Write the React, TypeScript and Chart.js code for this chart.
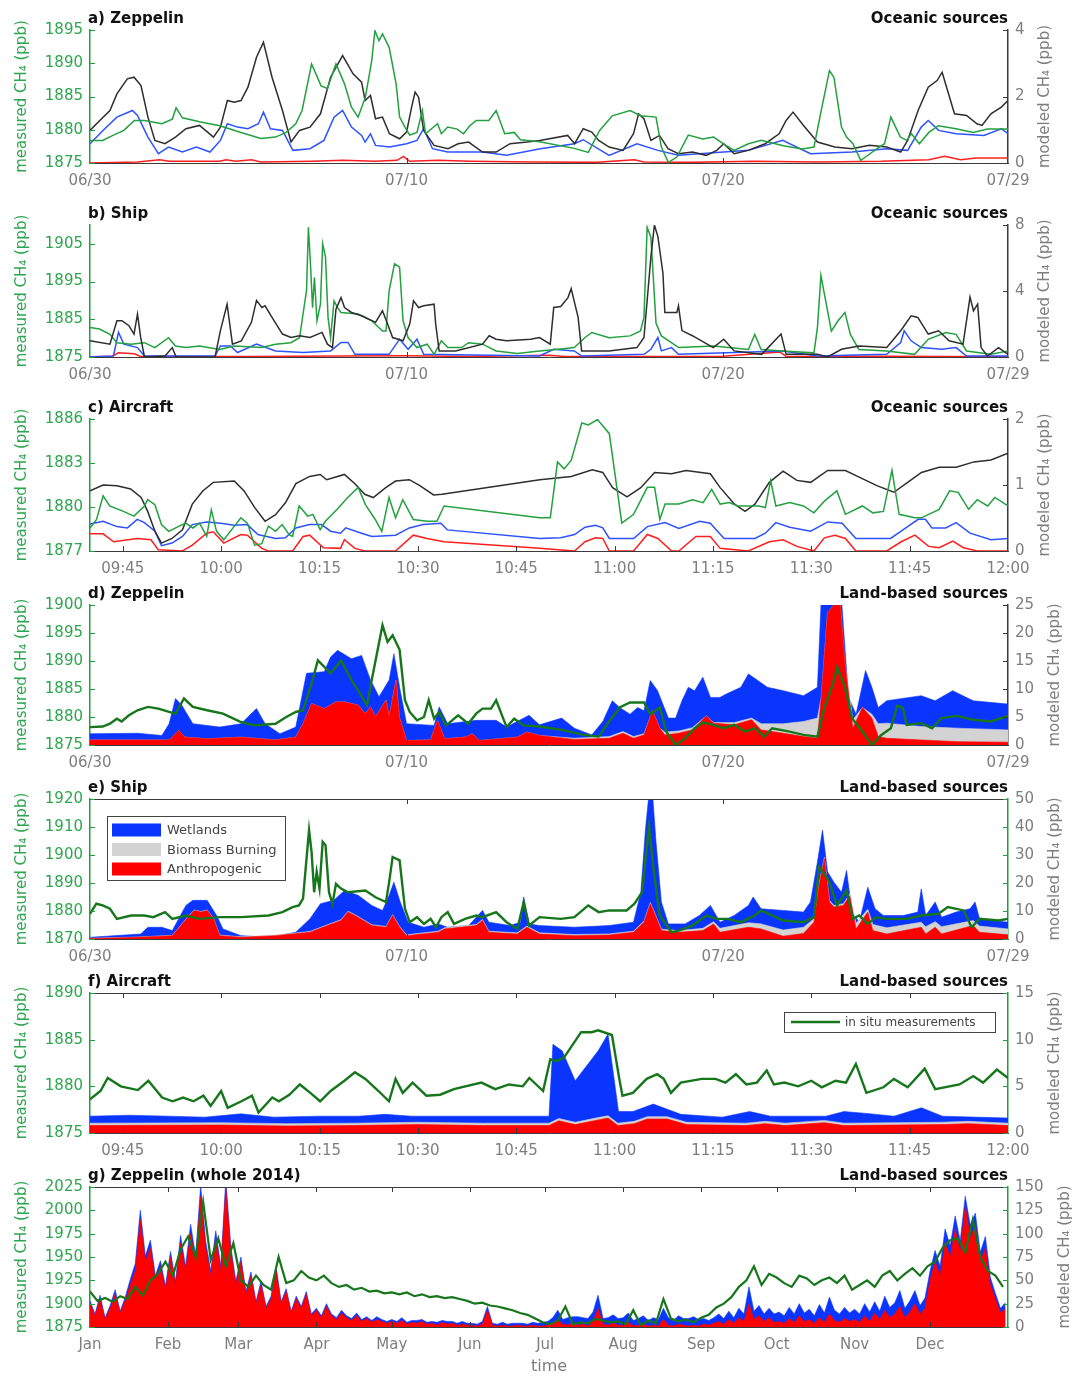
import React, { useEffect, useRef } from "react";
import { Chart, registerables } from "chart.js";

Chart.register(...registerables);

type Pair = [number, number];

// ---------- tick definitions ----------
const dateTickDays = [0, 10, 20, 29];
const dateTickLabels = ["06/30", "07/10", "07/20", "07/29"];
const flightTickMinutes = [585, 600, 615, 630, 645, 660, 675, 690, 705, 720];
const flightTickLabels = ["09:45", "10:00", "10:15", "10:30", "10:45", "11:00", "11:15", "11:30", "11:45", "12:00"];
const monthTickDays = [0, 31, 59, 90, 120, 151, 181, 212, 243, 273, 304, 334];
const monthTickLabels = ["Jan", "Feb", "Mar", "Apr", "May", "Jun", "Jul", "Aug", "Sep", "Oct", "Nov", "Dec"];

const aLeftTicks = [1875, 1880, 1885, 1890, 1895];
const aRightTicks = [0, 2, 4];
const bLeftTicks = [1875, 1885, 1895, 1905];
const bRightTicks = [0, 4, 8];
const cLeftTicks = [1877, 1880, 1883, 1886];
const cRightTicks = [0, 1, 2];
const dLeftTicks = [1875, 1880, 1885, 1890, 1895, 1900];
const dRightTicks = [0, 5, 10, 15, 20, 25];
const eLeftTicks = [1870, 1880, 1890, 1900, 1910, 1920];
const eRightTicks = [0, 10, 20, 30, 40, 50];
const fLeftTicks = [1875, 1880, 1885, 1890];
const fRightTicks = [0, 5, 10, 15];
const gLeftTicks = [1875, 1900, 1925, 1950, 1975, 2000, 2025];
const gRightTicks = [0, 25, 50, 75, 100, 125, 150];

const sourceLabels = ["Wetlands", "Biomass Burning", "Anthropogenic"];
const measurementLabel = "in situ measurements";

// ---------- a) Zeppelin, oceanic (days since 06/30) ----------
const aGreen: Pair[] = [[0,1878.4],[0.4,1878.4],[0.74,1879.2],[1.07,1879.9],[1.4,1881.4],[1.72,1881.4],[2.27,1880.9],[2.6,1881.6],[2.72,1883.3],[2.92,1881.8],[3.46,1881.2],[4.1,1880.6],[4.77,1879.6],[5.4,1878.7],[5.86,1878.9],[6.2,1879.6],[6.5,1880.9],[6.7,1882.9],[7.0,1889.9],[7.3,1886.6],[7.5,1886.2],[7.77,1889.9],[8.04,1886.9],[8.26,1883.4],[8.47,1881.9],[8.7,1884.9],[8.9,1890.4],[9.0,1894.9],[9.13,1893.4],[9.24,1894.4],[9.45,1892.4],[9.67,1886.9],[9.78,1881.9],[9.95,1880.4],[10.1,1879.2],[10.33,1879.6],[10.5,1882.9],[10.6,1879.4],[10.98,1880.9],[11.1,1879.4],[11.3,1880.4],[11.6,1880.1],[11.8,1879.4],[12.0,1880.6],[12.2,1881.4],[12.6,1881.4],[12.83,1882.9],[13.1,1879.4],[13.4,1879.6],[13.6,1878.5],[14.2,1878.2],[15.3,1877.2],[15.74,1876.6],[16.1,1879.9],[16.5,1882.1],[17.06,1882.9],[17.4,1882.1],[17.88,1881.9],[18.05,1877.4],[18.27,1875.1],[18.54,1875.9],[18.9,1879.2],[19.36,1878.6],[19.7,1878.9],[20.0,1877.9],[20.35,1876.9],[20.8,1877.9],[21.2,1878.4],[21.9,1877.6],[22.5,1877.1],[22.87,1877.4],[23.1,1882.9],[23.36,1888.9],[23.5,1887.9],[23.74,1880.4],[23.9,1878.9],[24.1,1877.9],[24.35,1875.4],[24.5,1875.9],[24.84,1877.1],[25.1,1877.9],[25.3,1881.9],[25.45,1880.4],[25.6,1878.9],[25.8,1878.4],[25.95,1879.4],[26.2,1877.9],[26.5,1879.6],[26.8,1880.6],[27.4,1880.1],[27.9,1879.6],[28.35,1880.1],[29,1880.1]];
const aBlack: Pair[] = [[0,0.98],[0.31,1.28],[0.63,1.58],[0.85,2.08],[1.18,2.53],[1.39,2.58],[1.61,2.33],[1.83,1.38],[2.05,0.68],[2.37,0.58],[2.7,0.78],[3.03,1.03],[3.46,1.13],[3.9,0.78],[4.12,1.08],[4.34,1.88],[4.55,1.83],[4.77,1.88],[4.99,2.28],[5.26,3.18],[5.48,3.63],[5.75,2.58],[6.08,1.58],[6.35,0.63],[6.62,0.98],[6.95,1.08],[7.28,1.48],[7.6,2.58],[7.98,3.23],[8.31,2.68],[8.58,2.43],[8.69,1.88],[8.86,2.03],[9.02,1.33],[9.24,1.38],[9.46,0.88],[9.78,0.73],[10.0,0.93],[10.16,1.68],[10.27,2.13],[10.38,1.98],[10.54,0.98],[10.87,0.53],[11.31,0.43],[11.63,0.58],[11.96,0.63],[12.4,0.33],[12.83,0.33],[13.27,0.58],[13.81,0.63],[14.21,0.68],[15.09,0.83],[15.31,0.58],[15.58,1.03],[15.85,0.93],[16.07,0.68],[16.4,0.48],[16.84,0.38],[17.17,0.88],[17.33,1.48],[17.5,1.33],[17.72,0.68],[17.99,0.83],[18.26,0.43],[18.59,0.28],[19.03,0.33],[19.47,0.23],[19.8,0.38],[20.02,0.58],[20.35,0.28],[20.79,0.38],[21.33,0.58],[21.77,0.88],[21.99,1.28],[22.21,1.53],[22.54,1.13],[22.98,0.63],[23.53,0.48],[24.07,0.43],[24.62,0.53],[25.17,0.48],[25.61,0.33],[25.83,0.68],[26.16,1.58],[26.48,2.28],[26.76,2.48],[26.92,2.73],[27.09,2.18],[27.31,1.48],[27.69,1.43],[28.02,1.18],[28.18,1.13],[28.46,1.48],[28.79,1.68],[29,1.88]];
const aBlue: Pair[] = [[0,0.58],[0.41,0.98],[0.85,1.38],[1.34,1.58],[1.5,1.43],[1.83,0.78],[2.16,0.28],[2.48,0.48],[2.92,0.33],[3.36,0.48],[3.79,0.33],[4.12,0.68],[4.34,1.18],[4.66,1.08],[4.99,1.03],[5.32,1.18],[5.48,1.53],[5.7,1.03],[6.08,0.98],[6.41,0.38],[6.95,0.43],[7.39,0.68],[7.71,1.38],[7.98,1.58],[8.26,1.08],[8.58,0.83],[8.69,0.63],[8.86,0.88],[9.02,0.53],[9.46,0.48],[10.0,0.58],[10.33,0.68],[10.54,1.03],[10.82,0.43],[11.3,0.33],[12.4,0.33],[13.16,0.23],[14.23,0.43],[15.3,0.58],[15.58,0.7],[16.4,0.23],[17.28,0.58],[17.94,0.38],[18.59,0.23],[20.02,0.33],[20.8,0.38],[21.88,0.68],[22.76,0.28],[24.07,0.33],[25.17,0.43],[25.83,0.38],[26.26,1.08],[26.48,1.28],[26.81,0.98],[27.36,0.88],[28.24,0.83],[28.79,1.03],[29,0.88]];
const aRed: Pair[] = [[0,0],[1.5,0.03],[2.2,0.1],[2.5,0.05],[4.1,0.05],[4.3,0.1],[4.6,0.05],[5.1,0.1],[5.4,0.03],[7.0,0.05],[8.0,0.08],[9.0,0.05],[9.7,0.08],[9.9,0.2],[10.1,0.05],[11,0.08],[12,0.05],[14,0.03],[16,0.02],[17.2,0.1],[17.5,0.03],[19,0.02],[21,0.05],[23,0.03],[25,0.05],[26.5,0.1],[27,0.2],[27.5,0.1],[28,0.15],[29,0.15]];

// ---------- b) Ship, oceanic ----------
const bGreen: Pair[] = [[0,1882.8],[0.3,1882.4],[0.63,1881.0],[0.85,1878.8],[1.29,1878.4],[1.72,1878.8],[2.05,1877.5],[2.48,1880.1],[2.7,1877.9],[3.03,1877.5],[3.46,1877.9],[4.1,1877.0],[4.55,1877.9],[5.43,1877.5],[5.86,1878.4],[6.34,1878.8],[6.62,1880.1],[6.73,1886.4],[6.84,1892.6],[6.9,1909.4],[6.97,1898.8],[7.03,1888.1],[7.09,1896.1],[7.17,1884.6],[7.28,1889],[7.35,1905.0],[7.44,1901.5],[7.52,1885.5],[7.6,1880.1],[7.71,1889.9],[7.82,1888.1],[7.93,1886.8],[8.47,1886.4],[8.9,1884.6],[9.24,1881.9],[9.35,1881.9],[9.45,1892.6],[9.62,1899.7],[9.78,1898.8],[9.89,1884.6],[10.05,1880.1],[10.33,1877.5],[10.65,1878.4],[10.87,1875.7],[11.1,1879.3],[11.3,1877.5],[11.74,1877.5],[11.96,1878.8],[12.4,1878.4],[12.83,1876.6],[13.5,1875.9],[14.2,1876.6],[14.87,1877.1],[15.3,1877.5],[15.63,1880.1],[15.85,1881.5],[16.4,1880.1],[17.06,1880.6],[17.39,1881.9],[17.5,1885.5],[17.6,1909.4],[17.72,1906.7],[17.88,1884],[18.05,1880.6],[18.6,1877.5],[19.7,1877.9],[20.8,1877.0],[21.0,1881],[21.2,1877.0],[21.88,1876.6],[22.87,1876.1],[22.98,1882.8],[23.09,1896.6],[23.2,1891.7],[23.42,1881.9],[23.63,1884.6],[23.85,1886.8],[24.02,1881],[24.29,1877.0],[25.17,1876.6],[26.05,1875.7],[26.48,1879.7],[27.03,1881.5],[27.36,1881],[27.69,1876.6],[28.46,1875.7],[29,1876.6]];
const bBlack: Pair[] = [[0,0.98],[0.63,0.78],[0.85,2.2],[1.01,2.2],[1.23,1.9],[1.39,1.39],[1.5,2.6],[1.6,1.2],[1.72,0],[2.37,0.06],[2.6,0.57],[2.72,0],[3.95,0],[4.12,1.6],[4.33,3.2],[4.5,0.78],[4.78,0.98],[5.1,2.1],[5.26,3.43],[5.43,3.0],[5.53,3.1],[5.75,2.4],[6.08,1.39],[6.35,1.18],[6.62,1.29],[6.95,1.18],[7.33,1.49],[7.5,0.78],[7.66,0.57],[7.77,2.9],[7.93,3.6],[8.04,3.0],[8.26,2.7],[8.58,2.5],[9.02,2.1],[9.24,2.8],[9.4,2.0],[9.56,1.18],[9.89,0.98],[10.1,2.0],[10.22,3.4],[10.38,3.0],[10.54,3.1],[10.87,3.2],[10.92,2.0],[11.03,0.37],[11.55,0.37],[12.4,0.78],[12.61,1.29],[12.83,1.08],[13.16,0.98],[13.92,1.08],[14.2,1.18],[14.54,0.78],[14.65,3.0],[14.87,3.06],[15.1,3.6],[15.2,4.14],[15.42,2.4],[15.53,0.37],[16.4,0.37],[17.28,0.57],[17.5,1.18],[17.72,6.08],[17.83,8.0],[17.94,7.3],[18.1,5.06],[18.16,2.7],[18.54,2.7],[18.59,3.1],[18.7,1.6],[19.03,1.29],[19.69,0.57],[20.02,1.08],[20.35,0.37],[21.22,0.16],[21.83,1.39],[21.99,0.16],[22.98,0.16],[23.3,0],[23.74,0.47],[24.29,0.67],[25.17,0.57],[25.61,1.59],[25.94,2.5],[26.15,2.4],[26.48,1.39],[26.81,1.59],[27.14,0.98],[27.58,0.78],[27.8,3.63],[27.91,2.8],[28.04,3.2],[28.15,0.57],[28.35,0.06],[28.7,0.57],[29,0.16]];
const bBlue: Pair[] = [[0,0],[0.74,0.06],[0.9,1.49],[1.07,0.78],[1.5,0.57],[1.72,0.06],[3.95,0.06],[4.12,0.67],[4.44,0.67],[4.66,0.27],[5.26,0.78],[5.86,0.37],[6.73,0.27],[7.6,0.37],[7.93,0.88],[8.15,0.88],[8.37,0.16],[9.45,0.16],[9.78,1.08],[10.05,0.47],[10.33,1.08],[10.54,0.16],[14.2,0.06],[14.65,0.47],[15.3,0.37],[15.53,0.06],[17.5,0.16],[17.72,0.47],[17.94,1.18],[18.05,0.37],[18.37,0.57],[18.59,0.16],[21.88,0.37],[22.98,0.06],[25.17,0.16],[25.61,0.88],[25.72,1.59],[25.94,0.98],[26.26,0.57],[26.9,0.47],[27.36,0.57],[27.69,0.06],[29,0.06]];
const bRed: Pair[] = [[0,0.02],[0.7,0.05],[0.9,0.25],[1.4,0.2],[1.6,0.03],[5,0.03],[8,0.06],[10,0.08],[12,0.03],[14.5,0.1],[15,0.03],[20,0.05],[21.8,0.3],[22,0.03],[25,0.05],[29,0.02]];

// ---------- c) Aircraft, oceanic (minutes since midnight) ----------
const cGreen: Pair[] = [[580,1878.57],[581,1879.15],[582,1880.76],[583,1880.07],[585.1,1879.7],[586.7,1879.38],[588.3,1880.07],[588.8,1880.5],[589.9,1880.16],[590.9,1878.8],[592,1878.34],[593.6,1878.7],[594.6,1878.9],[595.7,1878.57],[596.7,1878.9],[597.8,1878.0],[598.5,1879.8],[599.3,1878.34],[600.4,1877.76],[603,1879.26],[604,1878.9],[605.1,1877.4],[606.2,1877.5],[607.2,1878.7],[608.3,1878.34],[609.3,1878.8],[610.4,1878.1],[610.9,1878.0],[611.9,1880.07],[613.2,1879.38],[614,1879.5],[615.1,1878.46],[615.9,1879.03],[617.7,1879.84],[619.3,1880.65],[620.9,1881.34],[622,1880.16],[623.5,1879.15],[624.5,1878.34],[625.6,1880.65],[626.6,1879.26],[627.7,1880.5],[629.3,1879.15],[631.4,1879.03],[632.9,1879.03],[634,1880.07],[648.6,1879.26],[650.2,1879.26],[651.3,1883.07],[652.3,1882.6],[653.4,1883.19],[655,1885.73],[656,1885.6],[657.4,1885.96],[659.2,1885.0],[661.1,1878.9],[662.9,1879.5],[665,1881.34],[666.1,1881.34],[666.9,1879.15],[667.7,1880.2],[669.8,1880.2],[671.9,1880.5],[673.5,1880.3],[674.8,1881.2],[676.1,1880.2],[677.5,1880.3],[678.8,1880.07],[680.4,1880.07],[682,1880.07],[683,1879.96],[683.8,1881.8],[684.6,1880.07],[686.7,1880.3],[688.8,1880.07],[690.4,1879.6],[692,1880.4],[693.9,1881.1],[695.2,1879.5],[697.8,1880.07],[699.4,1879.6],[701,1879.7],[702.3,1882.5],[703.4,1879.5],[705.8,1879.26],[706.8,1879.26],[709.5,1879.84],[711.1,1881.1],[712.4,1881.0],[714,1879.84],[715.3,1880.5],[716.9,1880.07],[718,1880.65],[720,1880.07]];
const cBlack: Pair[] = [[580,0.91],[582,1.0],[584.1,0.99],[586.2,0.94],[587.8,0.81],[588.8,0.6],[589.9,0.3],[590.9,0.12],[592.5,0.19],[594.1,0.32],[595.6,0.71],[597.2,0.91],[598.8,1.04],[602,1.06],[603.5,0.91],[605.1,0.66],[606.7,0.45],[608.3,0.55],[609.8,0.73],[611.4,1.02],[613.5,1.13],[615.1,1.16],[616.1,1.08],[618.8,1.16],[620.4,1.02],[621.9,0.86],[623.2,0.81],[625.1,0.96],[626.6,1.06],[628.7,1.08],[630.3,0.99],[632.4,0.85],[633.7,0.86],[648.6,1.08],[653.4,1.13],[656.6,1.23],[658.2,1.19],[659.7,0.96],[661.9,0.82],[664,0.96],[666.1,1.19],[668.7,1.17],[670.9,1.22],[674.6,1.17],[676.1,0.96],[678.3,0.71],[679.9,0.6],[681.4,0.71],[683.6,1.04],[685.7,1.21],[687.8,1.07],[689.9,1.04],[692.5,1.22],[695.2,1.22],[697.3,1.12],[700,0.99],[702.6,0.89],[704.7,1.04],[706.8,1.19],[709.5,1.27],[712.1,1.27],[714.8,1.35],[717.4,1.38],[720,1.48]];
const cBlue: Pair[] = [[580,0.41],[582,0.45],[584.1,0.37],[585.7,0.35],[587.2,0.48],[588.3,0.43],[589.9,0.3],[590.9,0.08],[592.5,0.12],[594.1,0.22],[595.6,0.4],[597.8,0.44],[599.9,0.42],[602,0.39],[604,0.4],[605.6,0.25],[608.3,0.19],[609.8,0.2],[611.4,0.35],[613.5,0.4],[615.3,0.4],[616.7,0.3],[618.2,0.27],[619,0.35],[621.4,0.27],[623,0.22],[626.6,0.24],[628.7,0.35],[630.8,0.4],[633.5,0.42],[634.5,0.32],[648.6,0.19],[651.8,0.2],[653.9,0.25],[655.5,0.36],[657.1,0.39],[658.2,0.35],[659.2,0.19],[662.9,0.19],[665,0.37],[667.7,0.43],[669.8,0.34],[673,0.45],[674.6,0.42],[676.7,0.19],[681.4,0.19],[683,0.27],[684.6,0.43],[686.7,0.36],[689.9,0.3],[692.5,0.44],[694.7,0.42],[696.8,0.19],[702.1,0.19],[703.7,0.3],[706.3,0.48],[707.4,0.48],[708.4,0.35],[710.5,0.35],[712.1,0.43],[714.2,0.27],[717.4,0.17],[720,0.19]];
const cRed: Pair[] = [[580,0.26],[582,0.26],[583.6,0.14],[587.2,0.19],[589.3,0.17],[590.4,0.02],[594.1,0],[595.6,0.09],[597.8,0.27],[598.8,0.29],[600.4,0.12],[603,0.25],[604,0.24],[606.2,0.04],[607.2,0],[610.9,0],[612.5,0.22],[613.5,0.24],[615.6,0.05],[618.2,0.04],[618.8,0.17],[620.4,0.04],[621.9,0],[626.6,0],[629.3,0.24],[631.4,0.19],[634,0.14],[648.6,0.04],[653.9,0],[655.5,0.14],[657.1,0.2],[658.2,0.19],[659.2,0],[662.9,0],[665,0.25],[666.6,0.19],[668.7,0],[669.8,0],[672.4,0.22],[674.6,0.22],[676.1,0.04],[680.4,0],[683.6,0.14],[685.7,0.17],[687.8,0.07],[690.4,0],[692,0.2],[693.6,0.24],[695.2,0.19],[696.8,0],[701.5,0],[703.7,0.14],[705.8,0.24],[707.9,0.07],[709.5,0.05],[711.6,0.15],[713.2,0.05],[715.3,0],[720,0]];

// ---------- d) Zeppelin, land-based ----------
const dGreen: Pair[] = [[0,1878.2],[0.4,1878.3],[0.63,1878.8],[0.85,1879.7],[1.0,1879.2],[1.23,1880.3],[1.5,1881.2],[1.83,1881.8],[2.16,1881.5],[2.5,1880.9],[2.7,1880.6],[2.97,1883.3],[3.25,1881.8],[3.7,1881.2],[4.2,1880.6],[4.77,1879.1],[5.2,1878.5],[5.86,1878.8],[6.2,1880],[6.5,1880.9],[6.73,1881.2],[7.0,1886.0],[7.2,1890.1],[7.6,1887.8],[7.93,1890.1],[8.26,1886.6],[8.53,1884.2],[8.75,1882.1],[8.9,1886.6],[9.24,1896.4],[9.4,1893.4],[9.56,1894.6],[9.78,1892],[9.95,1883],[10.1,1880.9],[10.33,1879.4],[10.55,1880],[10.7,1883],[10.87,1879.7],[11.03,1880.9],[11.25,1878.5],[11.63,1880.3],[11.95,1878.8],[12.2,1880.6],[12.4,1881.5],[12.67,1881.5],[12.83,1883],[13.16,1878.2],[13.4,1879.7],[13.7,1878.5],[14.2,1878.3],[14.9,1877.7],[15.6,1876.8],[16.07,1876.5],[16.4,1879.2],[16.73,1881.7],[17.06,1882.6],[17.5,1882.6],[17.7,1880.5],[18.0,1881.7],[18.2,1877.4],[18.5,1875],[18.8,1876.2],[19.1,1878],[19.36,1879],[19.7,1878.6],[20.0,1878],[20.35,1878.6],[20.7,1877.4],[21.0,1878],[21.3,1876.5],[21.55,1878],[22.1,1877.4],[22.54,1876.8],[22.98,1876.5],[23.2,1881.7],[23.47,1885.9],[23.6,1888.9],[23.85,1885.3],[24.07,1879.8],[24.4,1877.4],[24.7,1875],[25.0,1876.8],[25.3,1878],[25.5,1882],[25.67,1881.7],[25.8,1878.6],[26.26,1878.9],[26.6,1878],[26.9,1879.8],[27.4,1880.2],[27.9,1879.5],[28.46,1879.2],[29,1880.2]];
const dTotalModeled: Pair[] = [[0,2.0],[1.5,2.1],[2.27,1.7],[2.5,3.8],[2.7,8.3],[2.9,7.1],[3.25,3.8],[4.1,3.2],[4.77,3.8],[5.26,6.5],[5.53,3.8],[6.0,2.0],[6.5,3.2],[6.84,12.8],[7.4,13.1],[7.6,15.7],[7.82,16.9],[8.26,15.4],[8.58,16.0],[8.86,11.6],[9.13,8.6],[9.45,11.6],[9.6,16.3],[9.78,10.3],[10.0,3.8],[10.87,3.5],[11.03,6.8],[11.3,3.8],[12.2,4.4],[12.83,4.4],[13.16,3.2],[13.87,5.3],[14.2,3.6],[14.9,4.8],[15.3,3.0],[15.85,1.8],[16.2,4.2],[16.5,7.9],[16.73,6.7],[17.06,5.5],[17.3,6.7],[17.5,6.1],[17.7,11.5],[17.93,9.7],[18.27,4.8],[18.5,4.8],[18.7,7.9],[18.9,10.3],[19.1,9.7],[19.36,12.1],[19.6,8.5],[19.9,8.5],[20.1,9.1],[20.56,10.3],[20.8,12.7],[21.1,11.5],[21.4,10.3],[21.9,9.7],[22.54,8.8],[22.98,10.3],[23.1,26],[23.74,26],[23.96,8.5],[24.2,5.5],[24.5,13.3],[24.7,10.3],[24.9,6.7],[25.17,7.9],[26.26,8.8],[26.7,7.9],[27.25,9.7],[27.9,7.9],[29,7.3]];
const dAnthroBiomass: Pair[] = [[0,0.9],[2.5,0.9],[2.8,2.6],[3.0,1.4],[3.7,1.1],[4.77,1.4],[5.86,0.9],[6.5,1.4],[6.73,3.8],[7.0,7.4],[7.4,6.5],[7.77,7.7],[8.04,7.7],[8.47,7.1],[8.7,5.6],[8.86,6.8],[9.02,5.0],[9.35,8.0],[9.45,5.0],[9.67,11.6],[9.77,5.0],[10.0,0.8],[10.76,0.9],[10.98,4.4],[11.2,1.1],[11.85,1.4],[12.07,2.0],[12.3,0.8],[13.5,1.4],[13.8,2.3],[14.2,1.7],[15.3,1.2],[16.4,1.5],[16.84,2.4],[17.17,1.5],[17.5,2.0],[17.77,6.1],[18.0,3.0],[18.16,2.3],[18.6,2.5],[19.03,3.1],[19.47,5.2],[19.7,4.0],[20.35,4.0],[20.9,4.8],[21.2,3.8],[21.9,3.8],[22.54,4.2],[22.98,4.8],[23.1,8.5],[23.3,23.6],[23.5,25],[23.7,25],[23.85,14.5],[24.1,4.5],[24.4,6.7],[24.7,5.5],[24.9,3.8],[25.17,3.9],[26.26,3.3],[27.4,3.0],[29,2.7]];
const dAnthropogenic: Pair[] = [[0,0.9],[2.5,0.9],[2.8,2.6],[3.0,1.4],[3.7,1.1],[4.77,1.4],[5.86,0.9],[6.5,1.4],[6.73,3.8],[7.0,7.4],[7.4,6.5],[7.77,7.7],[8.04,7.7],[8.47,7.1],[8.7,5.6],[8.86,6.8],[9.02,5.0],[9.35,8.0],[9.45,5.0],[9.67,11.6],[9.77,5.0],[10.0,0.8],[10.76,0.9],[10.98,4.4],[11.2,1.1],[11.85,1.4],[12.07,2.0],[12.3,0.8],[13.5,1.4],[13.8,2.3],[14.2,1.7],[15.3,1.0],[16.4,1.2],[16.84,2.1],[17.17,1.2],[17.5,1.8],[17.77,6.1],[18.0,3.0],[18.16,1.8],[18.6,2.1],[19.03,2.7],[19.47,5.2],[19.7,3.9],[20.35,3.6],[20.9,4.5],[21.2,2.7],[21.9,2.1],[22.54,1.5],[22.98,1.2],[23.1,8.5],[23.3,23.6],[23.5,25],[23.7,25],[23.85,14.5],[24.1,3.0],[24.4,6.7],[24.7,4.8],[24.9,1.5],[25.17,1.2],[26.26,0.9],[27.4,0.6],[29,0.5]];

// ---------- e) Ship, land-based ----------
const eGreen: Pair[] = [[0,1879],[0.2,1882.6],[0.4,1882],[0.63,1880.8],[0.85,1877.2],[1.3,1878.4],[1.72,1878.4],[2.0,1877.8],[2.37,1879.6],[2.6,1877.2],[3.03,1878.4],[3.46,1877.2],[4.1,1877.8],[4.77,1877.8],[5.64,1878.4],[6.08,1879.6],[6.4,1881.4],[6.6,1882],[6.73,1884.4],[6.84,1898.7],[6.92,1908.9],[7.0,1901],[7.08,1886.7],[7.16,1894],[7.25,1888],[7.35,1904.7],[7.44,1903.5],[7.55,1886.7],[7.66,1882.6],[7.77,1889.7],[7.93,1888],[8.15,1886.7],[8.7,1887.3],[9.02,1884.9],[9.35,1883.2],[9.45,1890.3],[9.56,1899.3],[9.78,1898.1],[9.95,1880.8],[10.1,1876],[10.33,1877.8],[10.55,1875.4],[10.76,1877.2],[10.93,1874.2],[11.1,1877.8],[11.3,1879.6],[11.5,1875.4],[11.85,1877.2],[12.2,1878.4],[12.4,1877.8],[12.83,1879.6],[13.16,1876],[13.5,1873.6],[13.7,1883.2],[13.87,1874.8],[14.2,1877.8],[14.87,1877.2],[15.3,1877.8],[15.74,1882],[16.07,1879.6],[16.4,1880.2],[16.95,1880.2],[17.2,1882.6],[17.44,1886.7],[17.55,1898.7],[17.66,1910.3],[17.8,1895],[18.0,1878.4],[18.37,1872.4],[18.6,1873],[19.03,1874.8],[19.47,1878.4],[19.8,1877.2],[20.13,1877.2],[20.56,1876],[21.0,1878.4],[21.2,1880.2],[21.9,1876.6],[22.54,1876],[22.87,1877.8],[23.03,1895.7],[23.2,1893.3],[23.36,1890.3],[23.6,1882],[23.9,1887.3],[24.1,1877.2],[24.3,1878.4],[24.57,1875.4],[24.84,1877.8],[25.17,1877.2],[25.8,1877.2],[26.26,1878.4],[26.8,1879],[27.1,1881.4],[27.6,1880.2],[27.85,1874.2],[28.1,1877.2],[28.7,1876.6],[29,1877.2]];
const eTotalModeled: Pair[] = [[0,0.6],[1.6,1.8],[1.83,4.2],[2.27,4.2],[2.6,3.0],[3.03,12],[3.25,13.8],[3.7,13.8],[4.0,8.4],[4.2,3.6],[4.77,1.2],[5.64,0.6],[6.5,2.4],[6.95,7.2],[7.28,12.6],[7.7,13.8],[8.04,17.3],[8.47,15.6],[8.9,12],[9.24,10.2],[9.45,15.6],[9.6,20.3],[9.8,13.2],[10.05,6.0],[10.55,4.2],[11.0,5.4],[11.3,4.2],[11.96,4.8],[12.4,10.2],[12.6,6.0],[13.27,4.8],[13.6,6.0],[13.7,15],[13.87,5.4],[14.2,4.8],[15.3,4.2],[16.4,4.8],[17.17,6.0],[17.4,16.7],[17.55,39.5],[17.66,52],[17.77,52],[17.88,34.7],[18.05,13.2],[18.27,5.4],[18.8,5.4],[19.25,8.4],[19.6,12],[19.9,6.0],[20.35,8.4],[20.8,12],[20.95,15],[21.2,10.8],[21.9,10.2],[22.54,9.6],[22.76,13.2],[22.98,27.5],[23.14,38.9],[23.3,24],[23.5,20.3],[23.74,16.7],[23.9,24.5],[24.07,9.6],[24.3,6.0],[24.57,18.5],[24.8,10.8],[25.06,8.4],[25.7,8.4],[26.15,9.6],[26.26,17.9],[26.4,8.4],[26.7,13.2],[26.9,7.8],[27.36,9.6],[27.8,10.8],[27.96,13.2],[28.1,7.2],[29,6.0]];
const eAnthroBiomass: Pair[] = [[0,0.3],[1.5,0.7],[2.6,1.3],[3.14,8.6],[3.3,10.4],[3.5,9.8],[3.7,10.4],[3.9,7.4],[4.1,1.4],[4.77,0.8],[5.86,1.4],[6.95,2.7],[7.5,5.1],[7.93,6.9],[8.15,9.9],[8.37,8.7],[8.9,5.1],[9.35,4.5],[9.56,8.7],[9.78,4.5],[10.0,1.5],[11.0,2.8],[11.2,4.0],[12.2,5.2],[12.4,7.0],[12.6,2.8],[13.5,2.2],[13.8,4.6],[14.2,2.2],[15.3,1.6],[16.4,1.8],[17.17,2.8],[17.5,6.4],[17.7,13.0],[17.9,7.6],[18.05,3.5],[18.6,3.0],[19.36,3.8],[19.7,6.2],[19.9,3.8],[20.8,5.8],[21.2,5.4],[21.9,3.2],[22.54,4.2],[22.87,7.2],[23.03,19.6],[23.2,29.2],[23.36,13.8],[23.5,12],[23.8,12.6],[24.0,16.1],[24.2,5.6],[24.57,10.6],[24.73,5.2],[25.17,4.0],[26.26,6.0],[26.4,4.4],[26.7,6.2],[26.9,4.4],[27.9,6.6],[28.1,4.6],[29,3.6]];
const eAnthropogenic: Pair[] = [[0,0.2],[1.5,0.6],[2.6,1.2],[3.14,8.4],[3.3,10.2],[3.5,9.6],[3.7,10.2],[3.9,7.2],[4.1,1.2],[4.77,0.6],[5.86,1.2],[6.95,2.4],[7.5,4.8],[7.93,6.6],[8.15,9.6],[8.37,8.4],[8.9,4.8],[9.35,4.2],[9.56,8.4],[9.78,4.2],[10.0,1.2],[11.0,2.4],[11.2,3.6],[12.2,4.8],[12.4,6.6],[12.6,2.4],[13.5,1.8],[13.8,4.2],[14.2,1.8],[15.3,1.2],[16.4,1.4],[17.17,2.4],[17.5,6.0],[17.7,12.6],[17.9,7.2],[18.05,3.0],[18.6,2.4],[19.36,3.0],[19.7,5.4],[19.9,2.4],[20.8,4.2],[21.2,3.6],[21.9,1.0],[22.54,2.0],[22.87,6.0],[23.03,19.1],[23.2,28.7],[23.36,13.2],[23.5,11.4],[23.8,12],[24.0,15.5],[24.2,3.6],[24.57,9.6],[24.73,3.0],[25.17,1.8],[26.26,4.2],[26.4,1.8],[26.7,4.2],[26.9,1.8],[27.9,4.8],[28.1,2.4],[29,1.5]];

// ---------- f) Aircraft, land-based ----------
const fGreen: Pair[] = [[580,1878.6],[581.6,1879.5],[582.7,1880.9],[584.7,1880],[587.3,1879.6],[588.9,1880.6],[591,1878.8],[592.6,1878.4],[594.2,1878.8],[595.8,1878.4],[597.3,1879],[598.4,1877.9],[600,1879.5],[601,1877.7],[603.1,1878.4],[604.7,1879],[605.7,1877.2],[607.8,1878.8],[608.8,1878.4],[610.4,1879.1],[612,1880.2],[613.6,1879.3],[615.1,1878.4],[616.7,1879.5],[618.8,1880.6],[620.4,1881.5],[622,1880.8],[624,1879.5],[625.6,1878.4],[626.6,1880.8],[627.7,1879.3],[629.2,1880.4],[631.3,1879],[633.4,1879.1],[635.5,1879.7],[639.7,1880.4],[641.8,1879.7],[643.9,1880.2],[646,1880],[647,1880.9],[649.1,1879.5],[650.2,1882.9],[651.2,1882.7],[652.3,1883.1],[654.9,1885.8],[656.5,1885.8],[657.5,1886],[659.6,1885.5],[660.7,1880.9],[661.2,1879],[662.8,1879.3],[664.9,1880.8],[666.5,1881.3],[667.5,1880.8],[668.6,1879.3],[670.1,1880.4],[673.3,1880.8],[675.4,1880.8],[676.9,1880.4],[678.5,1881.3],[680.1,1880.2],[681.7,1880.4],[683.2,1881.7],[684.3,1880.2],[685.9,1880.4],[688,1880],[690,1880.6],[691.6,1879.9],[693.7,1880.6],[695.3,1880.4],[696.8,1882.4],[698.4,1879.3],[701,1879.9],[702.6,1880.8],[704.7,1879.9],[707.3,1881.9],[708.9,1879.7],[712.6,1880.2],[714.7,1881.1],[716.2,1880.4],[718.3,1881.8],[720,1880.9]];
const fTotalModeled: Pair[] = [[580,1.8],[586,1.9],[592,1.8],[597.5,1.7],[603,2.05],[608,1.7],[615,1.8],[621,1.8],[625,2.0],[629,1.8],[640,1.8],[650,1.8],[650.6,9.5],[652,8.8],[654,5.6],[657.5,8.8],[659,10.6],[660.6,2.3],[662.8,2.3],[665.9,3.1],[670.1,2.0],[676.4,1.7],[680.6,2.3],[683.8,1.8],[692.2,1.8],[695,2.3],[698.4,2.1],[702.6,1.8],[706.8,2.7],[710,1.8],[720,1.6]];
const fAnthroBiomass: Pair[] = [[580,1.05],[600,1.1],[610,1.0],[620,1.05],[630,1.15],[640,1.05],[650,1.05],[651.5,1.55],[654,1.15],[657.5,1.65],[659,1.85],[660.5,1.05],[663,1.25],[665,1.75],[668,1.75],[671,1.15],[680,1.05],[683,1.25],[686,1.05],[692,1.35],[695,1.05],[710,1.15],[714,1.25],[720,1.05]];
const fAnthropogenic: Pair[] = [[580,0.8],[600,0.85],[610,0.75],[620,0.8],[630,0.9],[640,0.8],[650,0.8],[651.5,1.3],[654,0.9],[657.5,1.4],[659,1.6],[660.5,0.8],[663,1.0],[665,1.5],[668,1.5],[671,0.9],[680,0.8],[683,1.0],[686,0.8],[692,1.1],[695,0.8],[710,0.9],[714,1.0],[720,0.8]];

// ---------- g) Zeppelin, whole 2014 (day of year) ----------
const gStackStepDays = 2;
const gAnthropogenic = [25,12,30,8,20,35,15,28,45,60,115,70,85,50,65,40, 75,45,90,60,100,70,140,85,55,95,60,148,80,45, 70,35,55,25,45,20,30,60,25,38,15,30,20,35,12, 18,10,22,12,8,15,10,7,12,6,9,5,8,6,4, 6,4,7,3,5,4,6,3,4,2,5,3,4,2,3,2, 2,1,3,18,2,1,2,1,1,2,1,1,2,1,1, 2,4,8,3,2,5,2,3,1,6,20,3,2,4,2, 2,5,1,2,3,1,2,1,8,2,1,3,2,1,2,1, 3,2,4,6,3,8,4,10,6,25,8,12,6,10,5, 6,4,9,5,12,6,8,4,10,5,14,7,5,9,6, 8,5,12,6,15,8,18,10,14,22,10,16,25,14,20, 50,70,55,90,75,105,80,130,95,110,70,85,45,30,15,20];
const gWetlands = [3,2,4,2,3,5,2,4,6,8,10,6,8,5,6,4, 6,4,8,5,10,6,12,7,5,8,5,10,6,4, 5,3,4,2,4,2,3,5,2,3,2,3,2,3,2, 2,2,3,2,2,3,2,2,3,2,2,2,3,2,2, 2,2,3,2,2,3,2,2,2,3,2,3,2,2,3,2, 2,2,3,4,2,2,3,2,3,2,3,2,3,3,4, 4,6,10,5,8,6,9,7,8,10,14,6,8,9,7, 8,10,6,7,9,6,8,7,12,8,6,9,7,8,9,7, 6,5,6,8,6,9,6,10,8,18,9,11,8,10,9, 10,8,12,9,13,9,11,8,14,10,18,11,9,12,9, 11,9,13,10,12,9,15,11,12,17,10,12,14,9,11, 10,12,10,15,12,14,12,10,14,12,10,12,8,6,5,6];
const gGreenStepDays = 3;
const gGreen = [1913,1903,1906,1902,1908,1905,1918,1909,1925,1932,1945, 1930,1958,1972,1950,2009,1947,1970,1940,1965, 1925,1918,1930,1920,1915,1950,1922,1925,1935,1928, 1925,1930,1922,1918,1920,1915,1917,1913,1914,1911, 1912,1910,1912,1908,1910,1907,1908,1906,1907,1905,1903, 1900,1901,1898,1897,1895,1893,1890,1888,1884,1880, 1878,1882,1897,1878,1880,1879,1884,1882,1880,1881, 1878,1893,1877,1882,1879,1905,1884,1881,1883,1880, 1885,1888,1896,1900,1907,1918,1925,1940,1920,1932, 1928,1922,1918,1930,1927,1920,1925,1928,1922,1930,1915, 1920,1925,1918,1930,1935,1925,1932,1938,1930,1940, 1945,1960,1968,1970,1955,1990,1950,1935,1930,1918];

const gAnthroPairs: Pair[] = gAnthropogenic.map((v, i) => [i * gStackStepDays, v]);
const gTotalPairs: Pair[] = gAnthropogenic.map((v, i) => [i * gStackStepDays, v + gWetlands[i]]);
const gGreenPairs: Pair[] = gGreen.map((v, i) => [i * gGreenStepDays, v]);

// ---------- styling ----------
const FONT = "'DejaVu Sans', 'Liberation Sans', sans-serif";
const C_GREEN_LINE = "#23a03f";
const C_GREEN_DARK = "#17761c";
const C_BLUE_LINE = "#2d52ff";
const C_RED_LINE = "#ff1e1e";
const C_BLACK_LINE = "#2e2e2e";
const C_BLUE_FILL = "#0a35ff";
const C_GRAY_FILL = "#d3d3d3";
const C_RED_FILL = "#ff0000";
const C_GREEN_TEXT = "#2ea64f";
const C_GREEN_AXIS = "#1f9e3c";
const C_GRAY_TEXT = "#7e7e7e";
const C_AXIS_DARK = "#3a3a3a";
const TICK_FONT_SIZE = 15;

type SeriesSpec = { data: Pair[]; axis: "yL" | "yR"; color: string; width?: number; fill?: boolean };
type LegendSpec = { anchor: "left" | "right"; dx: number; dy: number; w: number; h: number; rowStart: number; rowGap: number; kind: "patch" | "line"; labels: string[]; colors: string[]; fontSize: number };
type PanelSpec = {
  top: number; areaH: number; canvasH: number;
  xMin: number; xMax: number; xTicks: number[]; xLabels: string[];
  yLMin: number; yLMax: number; yLTicks: number[];
  yRMin: number; yRMax: number; yRTicks: number[];
  rightAxisColor: string; boxed: boolean;
  titleLeft: string; titleRight: string;
  series: SeriesSpec[]; legend?: LegendSpec; xTitle?: string;
};

const AREA_TOP = 30;

const panels: PanelSpec[] = [
  {
    top: 0, areaH: 133, canvasH: 203, xMin: 0, xMax: 29, xTicks: dateTickDays, xLabels: dateTickLabels,
    yLMin: 1875, yLMax: 1895, yLTicks: aLeftTicks, yRMin: 0, yRMax: 4, yRTicks: aRightTicks,
    rightAxisColor: C_AXIS_DARK, boxed: false, titleLeft: "a) Zeppelin", titleRight: "Oceanic sources",
    series: [
      { data: aRed, axis: "yR", color: C_RED_LINE },
      { data: aBlue, axis: "yR", color: C_BLUE_LINE },
      { data: aBlack, axis: "yR", color: C_BLACK_LINE },
      { data: aGreen, axis: "yL", color: C_GREEN_LINE },
    ],
  },
  {
    top: 195, areaH: 132, canvasH: 202, xMin: 0, xMax: 29, xTicks: dateTickDays, xLabels: dateTickLabels,
    yLMin: 1875, yLMax: 1910, yLTicks: bLeftTicks, yRMin: 0, yRMax: 8, yRTicks: bRightTicks,
    rightAxisColor: C_AXIS_DARK, boxed: false, titleLeft: "b) Ship", titleRight: "Oceanic sources",
    series: [
      { data: bRed, axis: "yR", color: C_RED_LINE },
      { data: bBlue, axis: "yR", color: C_BLUE_LINE },
      { data: bGreen, axis: "yL", color: C_GREEN_LINE },
      { data: bBlack, axis: "yR", color: C_BLACK_LINE },
    ],
  },
  {
    top: 389, areaH: 132, canvasH: 202, xMin: 580, xMax: 720, xTicks: flightTickMinutes, xLabels: flightTickLabels,
    yLMin: 1877, yLMax: 1886, yLTicks: cLeftTicks, yRMin: 0, yRMax: 2, yRTicks: cRightTicks,
    rightAxisColor: C_AXIS_DARK, boxed: false, titleLeft: "c) Aircraft", titleRight: "Oceanic sources",
    series: [
      { data: cRed, axis: "yR", color: C_RED_LINE },
      { data: cBlue, axis: "yR", color: C_BLUE_LINE },
      { data: cBlack, axis: "yR", color: C_BLACK_LINE },
      { data: cGreen, axis: "yL", color: C_GREEN_LINE },
    ],
  },
  {
    top: 575, areaH: 140, canvasH: 210, xMin: 0, xMax: 29, xTicks: dateTickDays, xLabels: dateTickLabels,
    yLMin: 1875, yLMax: 1900, yLTicks: dLeftTicks, yRMin: 0, yRMax: 25, yRTicks: dRightTicks,
    rightAxisColor: C_AXIS_DARK, boxed: false, titleLeft: "d) Zeppelin", titleRight: "Land-based sources",
    series: [
      { data: dTotalModeled, axis: "yR", color: C_BLUE_FILL, fill: true },
      { data: dAnthroBiomass, axis: "yR", color: C_GRAY_FILL, fill: true },
      { data: dAnthropogenic, axis: "yR", color: C_RED_FILL, fill: true },
      { data: dGreen, axis: "yL", color: C_GREEN_DARK, width: 2.4 },
    ],
  },
  {
    top: 769, areaH: 140, canvasH: 210, xMin: 0, xMax: 29, xTicks: dateTickDays, xLabels: dateTickLabels,
    yLMin: 1870, yLMax: 1920, yLTicks: eLeftTicks, yRMin: 0, yRMax: 50, yRTicks: eRightTicks,
    rightAxisColor: C_GREEN_AXIS, boxed: true, titleLeft: "e) Ship", titleRight: "Land-based sources",
    series: [
      { data: eTotalModeled, axis: "yR", color: C_BLUE_FILL, fill: true },
      { data: eAnthroBiomass, axis: "yR", color: C_GRAY_FILL, fill: true },
      { data: eAnthropogenic, axis: "yR", color: C_RED_FILL, fill: true },
      { data: eGreen, axis: "yL", color: C_GREEN_DARK, width: 2.4 },
    ],
    legend: { anchor: "left", dx: 17, dy: 17, w: 178, h: 64, rowStart: 14, rowGap: 19.5, kind: "patch", labels: sourceLabels, colors: [C_BLUE_FILL, C_GRAY_FILL, C_RED_FILL], fontSize: 13 },
  },
  {
    top: 963, areaH: 140, canvasH: 210, xMin: 580, xMax: 720, xTicks: flightTickMinutes, xLabels: flightTickLabels,
    yLMin: 1875, yLMax: 1890, yLTicks: fLeftTicks, yRMin: 0, yRMax: 15, yRTicks: fRightTicks,
    rightAxisColor: C_GREEN_AXIS, boxed: true, titleLeft: "f) Aircraft", titleRight: "Land-based sources",
    series: [
      { data: fTotalModeled, axis: "yR", color: C_BLUE_FILL, fill: true },
      { data: fAnthroBiomass, axis: "yR", color: C_GRAY_FILL, fill: true },
      { data: fAnthropogenic, axis: "yR", color: C_RED_FILL, fill: true },
      { data: fGreen, axis: "yL", color: C_GREEN_DARK, width: 2.4 },
    ],
    legend: { anchor: "right", dx: 13, dy: 19, w: 211, h: 20, rowStart: 10, rowGap: 20, kind: "line", labels: [measurementLabel], colors: [C_GREEN_DARK], fontSize: 12 },
  },
  {
    top: 1157, areaH: 140, canvasH: 219, xMin: 0, xMax: 365, xTicks: monthTickDays, xLabels: monthTickLabels,
    yLMin: 1875, yLMax: 2025, yLTicks: gLeftTicks, yRMin: 0, yRMax: 150, yRTicks: gRightTicks,
    rightAxisColor: C_GREEN_AXIS, boxed: true, titleLeft: "g) Zeppelin (whole 2014)", titleRight: "Land-based sources",
    series: [
      { data: gTotalPairs, axis: "yR", color: C_BLUE_FILL, fill: true },
      { data: gAnthroPairs, axis: "yR", color: C_RED_FILL, fill: true },
      { data: gGreenPairs, axis: "yL", color: C_GREEN_DARK, width: 2.2 },
    ],
    xTitle: "time",
  },
];

// ---------- decoration plugin (inward ticks, box, titles, legends) ----------
const decorPlugin = {
  id: "decor",
  afterDraw(chart: any, _args: any, o: any) {
    const { ctx, chartArea: a, scales } = chart;
    const TL = 5;
    ctx.save();
    if (o.boxed) {
      ctx.strokeStyle = C_AXIS_DARK;
      ctx.lineWidth = 1;
      ctx.beginPath();
      ctx.moveTo(a.left, a.top + 0.5);
      ctx.lineTo(a.right, a.top + 0.5);
      ctx.stroke();
    }
    ctx.lineWidth = 1;
    ctx.strokeStyle = C_AXIS_DARK;
    ctx.beginPath();
    for (const t of scales.x.ticks) {
      const px = Math.round(scales.x.getPixelForValue(t.value)) + 0.5;
      if (px <= a.left + 2 || px >= a.right - 2) continue;
      ctx.moveTo(px, a.bottom);
      ctx.lineTo(px, a.bottom - TL);
      if (o.boxed) {
        ctx.moveTo(px, a.top);
        ctx.lineTo(px, a.top + TL);
      }
    }
    ctx.stroke();
    ctx.strokeStyle = C_GREEN_AXIS;
    ctx.beginPath();
    for (const t of scales.yL.ticks) {
      const py = Math.round(scales.yL.getPixelForValue(t.value)) + 0.5;
      ctx.moveTo(a.left, py);
      ctx.lineTo(a.left + TL, py);
    }
    ctx.stroke();
    ctx.strokeStyle = o.rightColor;
    ctx.beginPath();
    for (const t of scales.yR.ticks) {
      const py = Math.round(scales.yR.getPixelForValue(t.value)) + 0.5;
      ctx.moveTo(a.right, py);
      ctx.lineTo(a.right - TL, py);
    }
    ctx.stroke();

    // panel titles
    ctx.fillStyle = "#111";
    ctx.font = `bold 15px ${FONT}`;
    ctx.textBaseline = "alphabetic";
    ctx.textAlign = "left";
    ctx.fillText(o.titleLeft, a.left - 2, a.top - 7);
    ctx.textAlign = "right";
    ctx.fillText(o.titleRight, a.right, a.top - 7);

    // right tick label width -> right axis title position
    ctx.font = `${TICK_FONT_SIZE}px ${FONT}`;
    let widest = 0;
    for (const t of scales.yR.ticks) widest = Math.max(widest, ctx.measureText(String(t.value)).width);
    const rightTitleX = a.right + 7 + widest + 21;

    // axis titles (both read bottom-to-top)
    const cy = (a.top + a.bottom) / 2;
    ctx.font = `15px ${FONT}`;
    ctx.textAlign = "center";
    ctx.textBaseline = "middle";
    ctx.save();
    ctx.translate(22, cy);
    ctx.rotate(-Math.PI / 2);
    ctx.fillStyle = C_GREEN_TEXT;
    ctx.fillText("measured CH\u2084 (ppb)", 0, 0);
    ctx.restore();
    ctx.save();
    ctx.translate(rightTitleX, cy);
    ctx.rotate(-Math.PI / 2);
    ctx.fillStyle = C_GRAY_TEXT;
    ctx.fillText("modeled CH\u2084 (ppb)", 0, 0);
    ctx.restore();

    // legend
    const L = o.legend;
    if (L) {
      const bx = L.anchor === "left" ? a.left + L.dx : a.right - L.dx - L.w;
      const by = a.top + L.dy;
      ctx.fillStyle = "#ffffff";
      ctx.fillRect(bx, by, L.w, L.h);
      ctx.strokeStyle = "#444";
      ctx.lineWidth = 1;
      ctx.strokeRect(Math.round(bx) + 0.5, Math.round(by) + 0.5, L.w, L.h);
      ctx.font = `${L.fontSize}px ${FONT}`;
      ctx.textAlign = "left";
      ctx.textBaseline = "middle";
      L.labels.forEach((label: string, i: number) => {
        const ry = by + L.rowStart + i * L.rowGap;
        if (L.kind === "patch") {
          ctx.fillStyle = L.colors[i];
          ctx.fillRect(bx + 5, ry - 6.5, 49, 13);
          ctx.fillStyle = "#444";
          ctx.fillText(label, bx + 60, ry + 1);
        } else {
          ctx.strokeStyle = L.colors[i];
          ctx.lineWidth = 2.4;
          ctx.beginPath();
          ctx.moveTo(bx + 7, ry);
          ctx.lineTo(bx + 56, ry);
          ctx.stroke();
          ctx.fillStyle = "#444";
          ctx.fillText(label, bx + 61, ry + 1);
        }
      });
    }
    ctx.restore();
  },
};

function buildConfig(spec: PanelSpec): any {
  const n = spec.series.length;
  const datasets = spec.series.map((s, i) => ({
    type: "line",
    data: s.data.map(([x, y]) => ({ x, y })),
    yAxisID: s.axis,
    borderColor: s.color,
    borderWidth: s.fill ? 0.6 : s.width ?? 1.5,
    backgroundColor: s.fill ? s.color : "transparent",
    fill: s.fill ? "origin" : false,
    pointRadius: 0,
    pointHoverRadius: 0,
    tension: 0,
    order: n - i,
  }));
  const tickFont = { family: FONT, size: TICK_FONT_SIZE };
  const fixedTicks = (vals: number[]) => (scale: any) => {
    scale.ticks = vals.map((v) => ({ value: v }));
  };
  return {
    type: "line",
    data: { datasets },
    plugins: [decorPlugin],
    options: {
      animation: false,
      responsive: false,
      devicePixelRatio: 1,
      events: [],
      layout: { padding: { top: AREA_TOP, left: 0, right: 0, bottom: 0 } },
      plugins: {
        legend: { display: false },
        tooltip: { enabled: false },
        decor: {
          boxed: spec.boxed,
          rightColor: spec.rightAxisColor,
          titleLeft: spec.titleLeft,
          titleRight: spec.titleRight,
          legend: spec.legend,
        },
      },
      scales: {
        x: {
          type: "linear",
          position: "bottom",
          min: spec.xMin,
          max: spec.xMax,
          afterBuildTicks: fixedTicks(spec.xTicks),
          afterFit: (scale: any) => {
            scale.height = spec.canvasH - AREA_TOP - spec.areaH;
          },
          grid: { display: false, drawTicks: false },
          border: { display: true, color: C_AXIS_DARK, width: 1 },
          ticks: {
            color: C_GRAY_TEXT,
            font: tickFont,
            padding: 9,
            maxRotation: 0,
            autoSkip: false,
            callback: (v: number) => {
              const i = spec.xTicks.indexOf(v);
              return i >= 0 ? spec.xLabels[i] : "";
            },
          },
          title: spec.xTitle
            ? { display: true, text: spec.xTitle, color: C_GRAY_TEXT, font: { family: FONT, size: 16 }, padding: { top: 0, bottom: 0 } }
            : { display: false },
        },
        yL: {
          type: "linear",
          position: "left",
          min: spec.yLMin,
          max: spec.yLMax,
          afterBuildTicks: fixedTicks(spec.yLTicks),
          afterFit: (scale: any) => {
            scale.width = 90;
          },
          grid: { display: false, drawTicks: false },
          border: { display: true, color: C_GREEN_AXIS, width: 1.5 },
          ticks: { color: C_GREEN_TEXT, font: tickFont, padding: 7, callback: (v: number) => String(v) },
        },
        yR: {
          type: "linear",
          position: "right",
          min: spec.yRMin,
          max: spec.yRMax,
          afterBuildTicks: fixedTicks(spec.yRTicks),
          afterFit: (scale: any) => {
            scale.width = 76;
          },
          grid: { display: false, drawTicks: false },
          border: { display: true, color: spec.rightAxisColor, width: 1.5 },
          ticks: { color: C_GRAY_TEXT, font: tickFont, padding: 7, callback: (v: number) => String(v) },
        },
      },
    },
  };
}

function Panel({ spec }: { spec: PanelSpec }) {
  const ref = useRef<HTMLCanvasElement>(null);
  useEffect(() => {
    if (!ref.current) return;
    const chart = new Chart(ref.current, buildConfig(spec));
    return () => chart.destroy();
  }, [spec]);
  return (
    <canvas
      ref={ref}
      width={1084}
      height={spec.canvasH}
      style={{ position: "absolute", left: 0, top: spec.top, width: 1084, height: spec.canvasH, display: "block" }}
    />
  );
}

export default function App() {
  return (
    <div style={{ position: "absolute", left: 0, top: 0, width: 1084, height: 1376, background: "#ffffff", overflow: "hidden" }}>
      {panels.map((p, i) => (
        <Panel key={i} spec={p} />
      ))}
    </div>
  );
}
